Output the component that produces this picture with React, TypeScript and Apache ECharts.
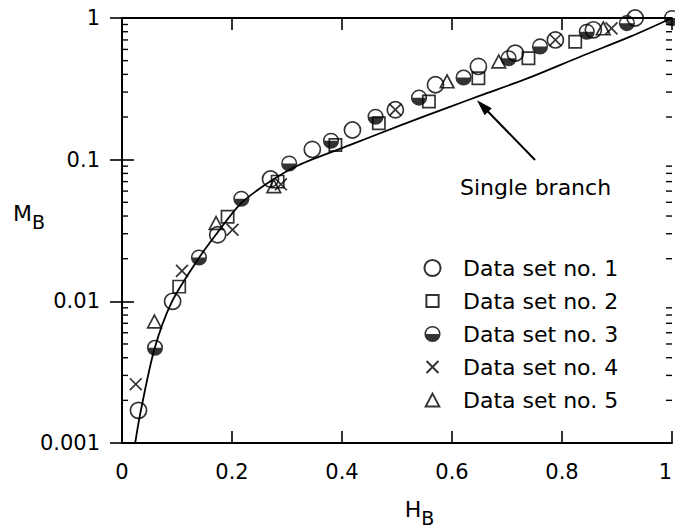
import React, { useEffect, useRef } from 'react';
import * as echarts from 'echarts';

const FONT = "'DejaVu Sans', sans-serif";

// axis ticks
const xTickLabels = ['0', '0.2', '0.4', '0.6', '0.8', '1'];
const yTickLabels = ['0.001', '0.01', '0.1', '1'];
const yMinor = [
  0.002, 0.003, 0.004, 0.005, 0.006, 0.007, 0.008, 0.009,
  0.02, 0.03, 0.04, 0.05, 0.06, 0.07, 0.08, 0.09,
  0.2, 0.3, 0.4, 0.5, 0.6, 0.7, 0.8, 0.9,
];

// data sets [H_B, M_B]
const set1 = [
  [0.030, 0.0017], [0.092, 0.0100], [0.174, 0.0295], [0.270, 0.073], [0.346, 0.118],
  [0.419, 0.162], [0.497, 0.225], [0.570, 0.338], [0.648, 0.455], [0.715, 0.565],
  [0.788, 0.70], [0.857, 0.825], [0.933, 1.0],
];
const set2 = [
  [0.104, 0.0127], [0.192, 0.0395], [0.283, 0.070], [0.388, 0.127], [0.467, 0.181],
  [0.558, 0.257], [0.648, 0.376], [0.739, 0.52], [0.824, 0.68],
];
const set3 = [
  [0.060, 0.0047], [0.140, 0.0204], [0.217, 0.053], [0.304, 0.094], [0.380, 0.136],
  [0.461, 0.201], [0.540, 0.274], [0.621, 0.38], [0.703, 0.52], [0.760, 0.63],
  [0.845, 0.80], [0.918, 0.92], [1.0, 1.0],
];
const set4 = [
  [0.025, 0.0026], [0.109, 0.0164], [0.201, 0.032], [0.289, 0.067], [0.497, 0.225],
  [0.788, 0.70], [0.890, 0.845],
];
const set5 = [
  [0.059, 0.0072], [0.171, 0.0357], [0.276, 0.065], [0.591, 0.357], [0.685, 0.493],
  [0.875, 0.845],
];

// "Single branch" curve
const singleBranch = [
  [0.024, 0.001], [0.033, 0.0016], [0.059, 0.0046], [0.09, 0.0098], [0.139, 0.020],
  [0.172, 0.030], [0.216, 0.049], [0.269, 0.070], [0.32, 0.091], [0.415, 0.127],
  [0.505, 0.174], [0.596, 0.236], [0.651, 0.283], [0.742, 0.381], [0.833, 0.533],
  [0.924, 0.738], [1.0, 1.0],
];
const arrowFrom = [0.751, 0.0995];
const arrowTo = [0.6556, 0.239];

const seriesNames = ['Data set no. 1', 'Data set no. 2', 'Data set no. 3', 'Data set no. 4', 'Data set no. 5'];

const SYM_CIRCLE = 'path://M -1 -1 M 1 1 M -0.95 0 A 0.95 0.95 0 1 1 0.95 0 A 0.95 0.95 0 1 1 -0.95 0 Z';
const SYM_SQUARE = 'path://M -1 -1 M 1 1 M -0.72 -0.72 L 0.72 -0.72 L 0.72 0.72 L -0.72 0.72 Z';
const SYM_HALF = 'path://M -1 -1 M 1 1 M -0.95 0 A 0.95 0.95 0 0 0 0.95 0 Z M -0.95 0 A 0.95 0.95 0 0 1 0.95 0 L 0.77 0 A 0.77 0.77 0 0 0 -0.77 0 Z';
const SYM_CROSS = 'path://M -1 -1 M 1 1 M -0.7 -0.7 L 0.7 0.7 M 0.7 -0.7 L -0.7 0.7';
const SYM_TRI = 'path://M -1 -1 M 1 1 M 0 -0.75 L 0.8 0.75 L -0.8 0.75 Z';

const hollow = { color: 'transparent', borderColor: '#000', borderWidth: 1.7 };

export default function App() {
  const ref = useRef<HTMLDivElement>(null);
  useEffect(() => {
    document.body.style.margin = '0';
    if (!ref.current) return;
    const chart = echarts.init(ref.current, null, { renderer: 'svg' });
    const axisLine = { show: true, lineStyle: { color: '#000', width: 1.8 } };
    const majorTick = { show: true, inside: true, length: 12, lineStyle: { color: '#000', width: 1.6 } };
    const yBase = {
      type: 'log', logBase: 10, min: 0.001, max: 1,
      splitLine: { show: false }, minorTick: { show: false }, minorSplitLine: { show: false },
    };
    const xBase = {
      type: 'value', min: 0, max: 1, interval: 0.2,
      splitLine: { show: false },
    };
    const scatter = (name: string, data: number[][], symbol: string, itemStyle: any) => ({
      type: 'scatter', name, data, symbol, symbolSize: 17, itemStyle,
      xAxisIndex: 0, yAxisIndex: 0, z: 3,
      emphasis: { disabled: true },
    });
    const option: any = {
      animation: false,
      grid: { left: 122, right: 3, top: 18, bottom: 87, containLabel: false, outerBoundsMode: 'none' },
      legend: {
        orient: 'vertical', left: 423, top: 257, padding: 0,
        itemWidth: 17, itemHeight: 17, itemGap: 11, selectedMode: false,
        data: seriesNames,
        textStyle: { fontSize: 22, fontFamily: FONT, color: '#000', lineHeight: 20, padding: [0, 0, 0, 17] },
      },
      xAxis: [
        {
          ...xBase, position: 'bottom', axisLine, axisTick: majorTick,
          axisLabel: {
            show: true, margin: 18, fontSize: 21, fontFamily: FONT, color: '#000',
            alignMaxLabel: 'right',
            formatter: (v: number) => xTickLabels[Math.round(v * 5)],
          },
          name: '{a|H}{b|B}', nameLocation: 'middle', nameGap: 49, nameMoveOverlap: false,
          nameTextStyle: {
            color: '#000', padding: [0, 0, 0, 45],
            rich: {
              a: { fontSize: 22, fontFamily: FONT, color: '#000' },
              b: { fontSize: 19, fontFamily: FONT, color: '#000', padding: [16, 0, 0, 0] },
            },
          },
        },
        { ...xBase, position: 'top', axisLine, axisTick: majorTick, axisLabel: { show: false } },
      ],
      yAxis: [
        {
          ...yBase, position: 'left', axisLine, axisTick: majorTick,
          axisLabel: {
            show: true, margin: 22, fontSize: 21, fontFamily: FONT, color: '#000',
            formatter: (v: number) => yTickLabels[Math.round(Math.log10(v)) + 3],
          },
          name: '{a|M}{b|B}', nameLocation: 'middle', nameRotate: 0, nameGap: 77, nameMoveOverlap: false,
          nameTextStyle: {
            color: '#000', padding: [0, 0, 35, 0],
            rich: {
              a: { fontSize: 22, fontFamily: FONT, color: '#000' },
              b: { fontSize: 19, fontFamily: FONT, color: '#000', padding: [18, 0, 0, 0] },
            },
          },
        },
        {
          ...yBase, position: 'right', axisLine, axisTick: majorTick, axisLabel: { show: false },
        },
      ],
      graphic: [
        {
          type: 'text', x: 460, y: 187,
          style: { text: 'Single branch', fontSize: 22, fontFamily: FONT, fill: '#000', align: 'left', verticalAlign: 'middle' },
        },
      ],
      series: [
        {
          type: 'line', name: 'Single branch', data: singleBranch, smooth: 0.3,
          showSymbol: false, symbol: 'none', xAxisIndex: 0, yAxisIndex: 0, z: 2,
          lineStyle: { color: '#000', width: 1.8 }, itemStyle: { color: '#000' },
          emphasis: { disabled: true },
          markLine: {
            silent: true, symbol: ['none', 'triangle'], symbolSize: [10, 16],
            lineStyle: { color: '#000', width: 2, type: 'solid' },
            label: { show: false },
            data: [[{ coord: arrowFrom }, { coord: arrowTo }]],
          },
        },
        scatter(seriesNames[0], set1, SYM_CIRCLE, hollow),
        scatter(seriesNames[1], set2, SYM_SQUARE, hollow),
        scatter(seriesNames[2], set3, SYM_HALF, { color: '#000', borderWidth: 0 }),
        scatter(seriesNames[3], set4, SYM_CROSS, hollow),
        scatter(seriesNames[4], set5, SYM_TRI, hollow),
        {
          type: 'custom', name: 'minor ticks', xAxisIndex: 0, yAxisIndex: 0,
          data: yMinor.map((v) => [0, v]), silent: true, clip: false, z: 4,
          renderItem: (_p: any, api: any) => {
            const v = api.value(1);
            const l = api.coord([0, v]);
            const r = api.coord([1, v]);
            const style = { stroke: '#000', lineWidth: 1.4 };
            return {
              type: 'group',
              children: [
                { type: 'line', shape: { x1: l[0], y1: l[1], x2: l[0] + 6, y2: l[1] }, style },
                { type: 'line', shape: { x1: r[0], y1: r[1], x2: r[0] - 6, y2: r[1] }, style },
              ],
            };
          },
        },
      ],
    };
    chart.setOption(option);
    return () => chart.dispose();
  }, []);
  return <div ref={ref} style={{ width: 675, height: 530 }} />;
}
